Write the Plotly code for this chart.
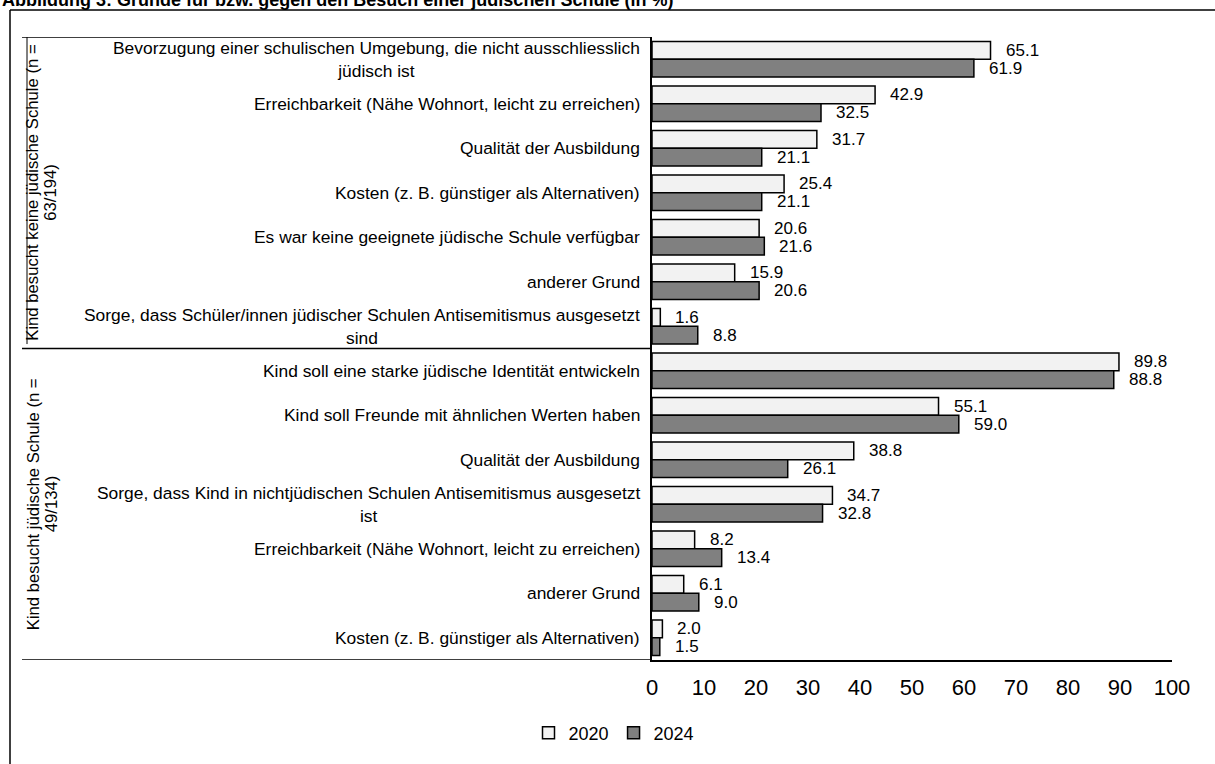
import plotly.graph_objects as go

# ---------------- data ----------------
title_text = "Abbildung 3: Gründe für bzw. gegen den Besuch einer jüdischen Schule (in %)"
group_labels = [
    ["Kind besucht keine jüdische Schule (n =", "63/194)"],
    ["Kind besucht jüdische Schule (n =", "49/134)"],
]
categories_g1 = [
    "Bevorzugung einer schulischen Umgebung, die nicht ausschliesslich<br>jüdisch ist",
    "Erreichbarkeit (Nähe Wohnort, leicht zu erreichen)",
    "Qualität der Ausbildung",
    "Kosten (z. B. günstiger als Alternativen)",
    "Es war keine geeignete jüdische Schule verfügbar",
    "anderer Grund",
    "Sorge, dass Schüler/innen jüdischer Schulen Antisemitismus ausgesetzt<br>sind",
]
values_2020_g1 = [65.1, 42.9, 31.7, 25.4, 20.6, 15.9, 1.6]
values_2024_g1 = [61.9, 32.5, 21.1, 21.1, 21.6, 20.6, 8.8]

categories_g2 = [
    "Kind soll eine starke jüdische Identität entwickeln",
    "Kind soll Freunde mit ähnlichen Werten haben",
    "Qualität der Ausbildung",
    "Sorge, dass Kind in nichtjüdischen Schulen Antisemitismus ausgesetzt<br>ist",
    "Erreichbarkeit (Nähe Wohnort, leicht zu erreichen)",
    "anderer Grund",
    "Kosten (z. B. günstiger als Alternativen)",
]
values_2020_g2 = [89.8, 55.1, 38.8, 34.7, 8.2, 6.1, 2.0]
values_2024_g2 = [88.8, 59.0, 26.1, 32.8, 13.4, 9.0, 1.5]

series_names = ["2020", "2024"]
x_ticks = list(range(0, 101, 10))

# ---------------- build ----------------
categories = categories_g1 + categories_g2
v2020 = values_2020_g1 + values_2020_g2
v2024 = values_2024_g1 + values_2024_g2
pos = list(range(len(categories)))

FONT = "Arial, Liberation Sans, sans-serif"
NARROW = "Liberation Sans Narrow, Arial Narrow, Arial, sans-serif"

W, H = 1215, 764
ML, MR, MT, MB = 652, 43, 37, 104
PW = W - ML - MR
PH = H - MT - MB


def px_x(px):
    return (px - ML) / PW


def px_y(py):
    return (H - MB - py) / PH


fig = go.Figure()
fig.add_trace(go.Bar(
    y=pos, x=v2020, orientation="h", name=series_names[0],
    marker=dict(color="#f2f2f2", line=dict(color="black", width=1.5)),
))
fig.add_trace(go.Bar(
    y=pos, x=v2024, orientation="h", name=series_names[1],
    marker=dict(color="#808080", line=dict(color="black", width=1.5)),
))

annotations = []
# data labels
for i, (a, b) in enumerate(zip(v2020, v2024)):
    for val, off in ((a, -0.2), (b, 0.2)):
        annotations.append(dict(
            x=val, y=i + off, xref="x", yref="y", text=f"{val:.1f}",
            showarrow=False, xanchor="left", yanchor="middle", xshift=13,
            font=dict(family=FONT, size=17, color="black"),
        ))
# category labels
for i, c in enumerate(categories):
    annotations.append(dict(
        x=px_x(642), y=i, xref="paper", yref="y", text=c, showarrow=False,
        xanchor="right", yanchor="middle", align="center",
        font=dict(family=FONT, size=17.4, color="black"),
    ))
# group labels
for g, (l1, l2) in enumerate(group_labels):
    yc = 3 + 7 * g
    annotations.append(dict(
        x=px_x(33), y=yc, xref="paper", yref="y", text=l1, showarrow=False,
        textangle=-90, xanchor="center", yanchor="middle",
        font=dict(family=FONT, size=16.7, color="black"),
    ))
    annotations.append(dict(
        x=px_x(51), y=yc, xref="paper", yref="y", text=l2, showarrow=False,
        textangle=-90, xanchor="center", yanchor="middle",
        font=dict(family=FONT, size=16.7, color="black"),
    ))
# title (cut at top edge, as in the reference)
annotations.append(dict(
    x=px_x(0), y=px_y(0), xref="paper", yref="paper", text="<b>" + title_text + "</b>",
    showarrow=False, xanchor="left", yanchor="middle",
    font=dict(family=FONT, size=18, color="black"),
))

shapes = []
line = dict(color="black", width=1.5)
shapes.append(dict(type="line", xref="paper", yref="y", x0=px_x(22), x1=0, y0=-0.5, y1=-0.5, line=line))
shapes.append(dict(type="line", xref="paper", yref="y", x0=px_x(22), x1=0, y0=6.5, y1=6.5, line=line))
shapes.append(dict(type="line", xref="paper", yref="y", x0=px_x(22), x1=0, y0=13.5, y1=13.5, line=line))
shapes.append(dict(type="line", xref="paper", yref="y", x0=px_x(27), x1=px_x(27), y0=-0.5, y1=6.4, line=dict(color="black", width=1)))
# outer frame
shapes.append(dict(type="line", xref="paper", yref="paper", x0=px_x(10), x1=px_x(10), y0=px_y(10), y1=px_y(800), line=line))
shapes.append(dict(type="line", xref="paper", yref="paper", x0=px_x(10), x1=px_x(1250), y0=px_y(10), y1=px_y(10), line=line))

fig.update_layout(
    width=W, height=H,
    margin=dict(l=ML, r=MR, t=MT, b=MB),
    paper_bgcolor="white", plot_bgcolor="white",
    barmode="group", bargap=0.2, bargroupgap=0,
    showlegend=True,
    legend=dict(
        orientation="h", x=px_x(614), y=px_y(733), xanchor="center", yanchor="middle",
        font=dict(family=NARROW, size=18, color="black"), itemwidth=30,
        traceorder="normal",
    ),
    annotations=annotations, shapes=shapes,
    font=dict(family=FONT, color="black"),
)
fig.update_xaxes(
    range=[0, 100], tickvals=x_ticks, showgrid=False, zeroline=False,
    showline=True, linecolor="black", linewidth=1.5,
    ticks="outside", ticklen=7, tickcolor="rgba(0,0,0,0)",
    tickfont=dict(family=NARROW, size=22, color="black"),
)
fig.update_yaxes(
    range=[13.5, -0.5], showticklabels=False, showgrid=False, zeroline=False,
    showline=True, linecolor="black", linewidth=1.5,
)

fig.write_html(
    "out.html",
    config={"displayModeBar": False},
    post_script="document.body.style.margin='0';",
)
